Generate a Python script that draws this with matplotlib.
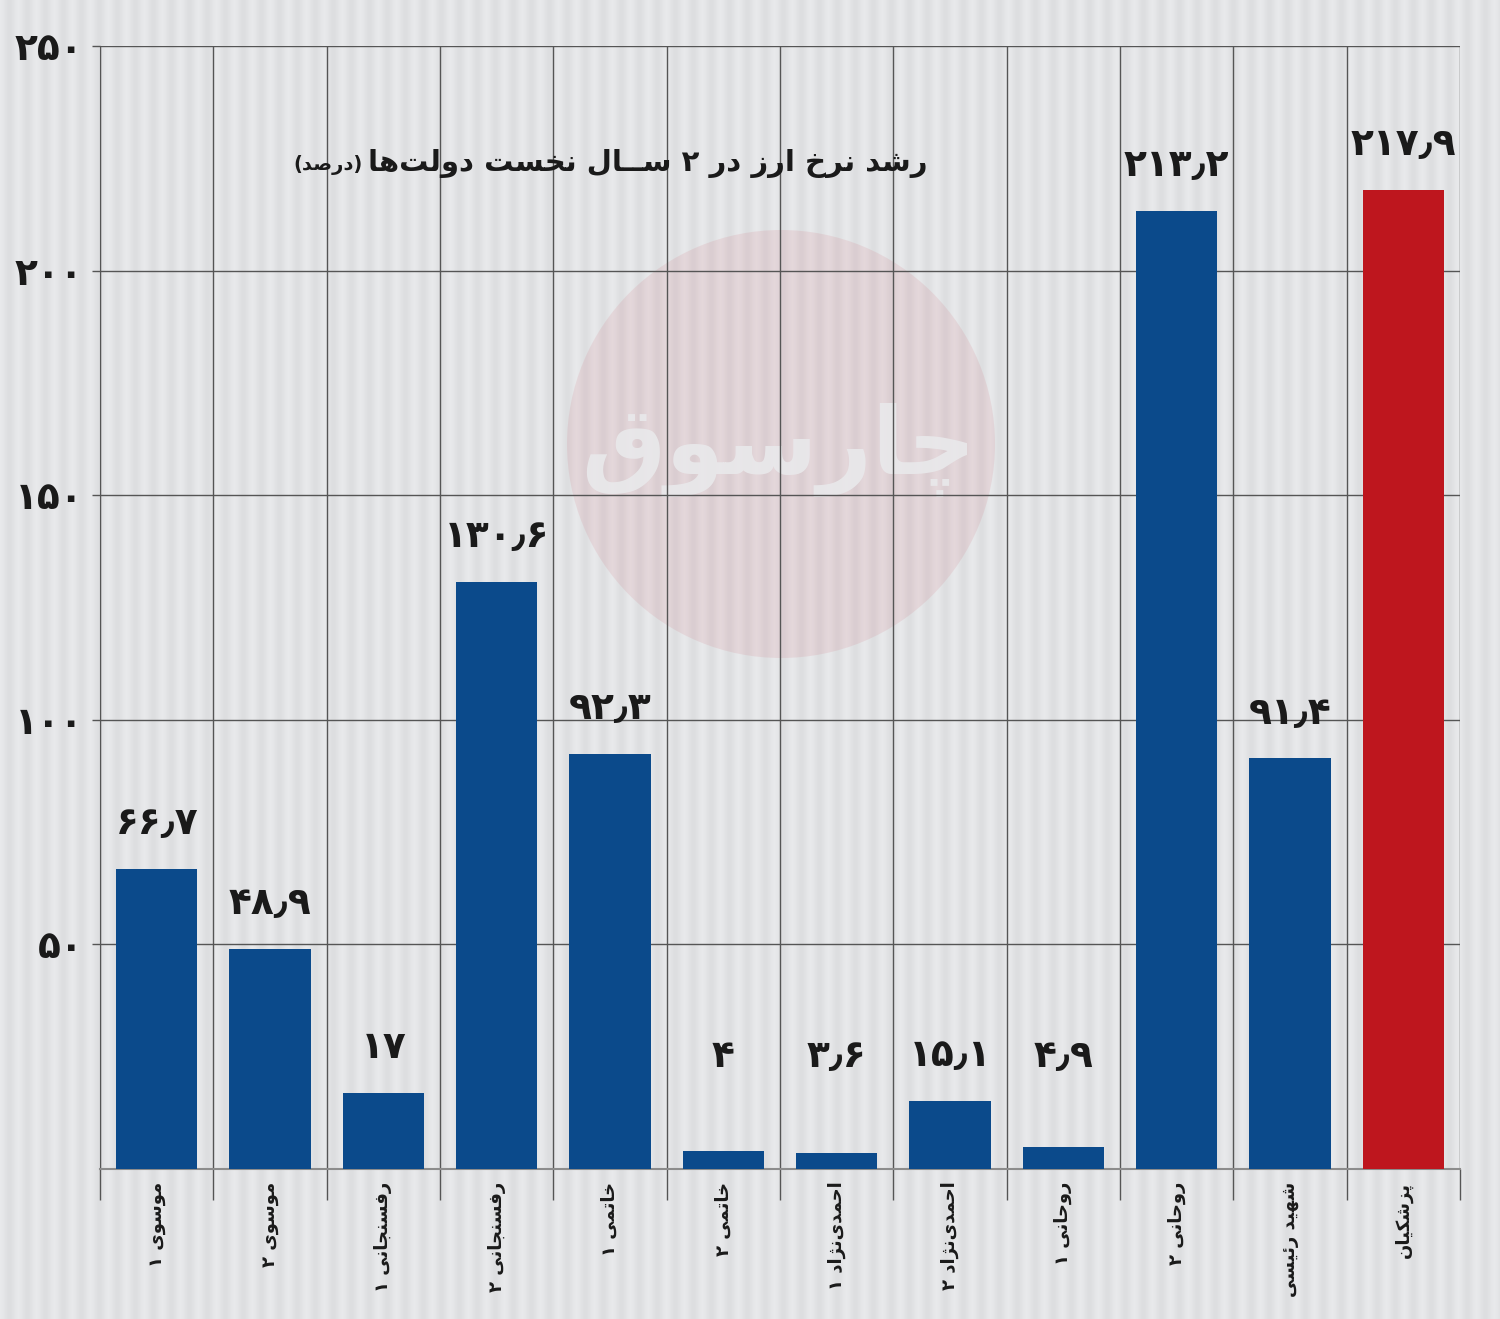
import re

import numpy as np
import matplotlib
matplotlib.use('Agg')
import matplotlib.pyplot as plt
from matplotlib.patches import Ellipse

governments = ['موسوی ۱', 'موسوی ۲', 'رفسنجانی ۱', 'رفسنجانی ۲', 'خاتمی ۱', 'خاتمی ۲',
               'احمدی‌نژاد ۱', 'احمدی‌نژاد ۲', 'روحانی ۱', 'روحانی ۲', 'شهید رئیسی', 'پزشکیان']
growth = [66.7, 48.9, 17, 130.6, 92.3, 4, 3.6, 15.1, 4.9, 213.2, 91.4, 217.9]
y_ticks = [50, 100, 150, 200, 250]
highlight = 'پزشکیان'
title = 'رشد نرخ ارز در ۲ ســال نخست دولت‌ها'
unit = '(درصد)'
brand = 'چارسوق'

# isolated, final, initial, medial (None = letter does not join to the next one)
FORMS = {
    'ا': (0xFE8D, 0xFE8E, None, None),
    'ب': (0xFE8F, 0xFE90, 0xFE91, 0xFE92),
    'پ': (0xFB56, 0xFB57, 0xFB58, 0xFB59),
    'ت': (0xFE95, 0xFE96, 0xFE97, 0xFE98),
    'ج': (0xFE9D, 0xFE9E, 0xFE9F, 0xFEA0),
    'چ': (0xFB7A, 0xFB7B, 0xFB7C, 0xFB7D),
    'ح': (0xFEA1, 0xFEA2, 0xFEA3, 0xFEA4),
    'خ': (0xFEA5, 0xFEA6, 0xFEA7, 0xFEA8),
    'د': (0xFEA9, 0xFEAA, None, None),
    'ر': (0xFEAD, 0xFEAE, None, None),
    'ز': (0xFEAF, 0xFEB0, None, None),
    'ژ': (0xFB8A, 0xFB8B, None, None),
    'س': (0xFEB1, 0xFEB2, 0xFEB3, 0xFEB4),
    'ش': (0xFEB5, 0xFEB6, 0xFEB7, 0xFEB8),
    'ص': (0xFEB9, 0xFEBA, 0xFEBB, 0xFEBC),
    'ف': (0xFED1, 0xFED2, 0xFED3, 0xFED4),
    'ق': (0xFED5, 0xFED6, 0xFED7, 0xFED8),
    'ک': (0xFB8E, 0xFB8F, 0xFB90, 0xFB91),
    'ل': (0xFEDD, 0xFEDE, 0xFEDF, 0xFEE0),
    'م': (0xFEE1, 0xFEE2, 0xFEE3, 0xFEE4),
    'ن': (0xFEE5, 0xFEE6, 0xFEE7, 0xFEE8),
    'ه': (0xFEE9, 0xFEEA, 0xFEEB, 0xFEEC),
    'و': (0xFEED, 0xFEEE, None, None),
    'ی': (0xFBFC, 0xFBFD, 0xFBFE, 0xFBFF),
    'ئ': (0xFE89, 0xFE8A, 0xFE8B, 0xFE8C),
    'ـ': (0x0640, 0x0640, 0x0640, 0x0640),
}
FA_DIGITS = '۰۱۲۳۴۵۶۷۸۹٫'
MIRROR = str.maketrans('()', ')(')


def shape(text):
    out = []
    for i, c in enumerate(text):
        if c not in FORMS:
            if c != '\u200c':
                out.append(c)
            continue
        prev = text[i - 1] if i > 0 else ''
        nxt = text[i + 1] if i + 1 < len(text) else ''
        join_prev = prev in FORMS and FORMS[prev][2] is not None
        join_next = FORMS[c][2] is not None and nxt in FORMS
        iso, fin, ini, med = FORMS[c]
        if join_prev and join_next:
            g = med
        elif join_prev:
            g = fin
        elif join_next:
            g = ini
        else:
            g = iso
        out.append(chr(g))
    return ''.join(out)


def visual(text):
    parts = re.findall('[' + FA_DIGITS + ']+|[^' + FA_DIGITS + ']+', shape(text))
    line = ''
    for p in reversed(parts):
        if p[0] in FA_DIGITS:
            line += p
        else:
            line += p[::-1].translate(MIRROR)
    return line


def fa_num(v):
    return f'{v:g}'.translate(str.maketrans('0123456789.', FA_DIGITS))


plt.rcParams['font.family'] = ['DejaVu Sans']
plt.rcParams['font.weight'] = 'bold'

W, H = 1500, 1319
fig = plt.figure(figsize=(W / 100, H / 100), dpi=100)

# striped grey background
bg = fig.add_axes([0, 0, 1, 1], zorder=-2)
cols = np.arange(W)
wave = 0.5 + 0.5 * np.cos(2 * np.pi * cols / 18.0)
base = np.array([0.868, 0.872, 0.880])
stripes = base[None, :] + 0.042 * wave[:, None]
bg.imshow(stripes[None, :, :], aspect='auto', extent=[0, 1, 0, 1])
bg.axis('off')

# faded logo circle
fig.add_artist(Ellipse((781 / W, 1 - 444 / H), 428 / W, 428 / H, transform=fig.transFigure,
                       facecolor='#cc5966', edgecolor='none', alpha=0.12, zorder=-1))
fig.text(778 / W, 1 - 450 / H, visual(brand), ha='center', va='center', fontsize=68,
         color='#e9e9eb', alpha=0.9, zorder=-0.5)

ax = fig.add_axes([100 / W, 150 / H, 1360 / W, 1123 / H])
ax.set_facecolor('none')

x = np.arange(len(governments))
colors = ['#be161e' if g == highlight else '#0b4a8b' for g in governments]
ax.bar(x, growth, width=0.72, color=colors, zorder=3)

for xi, v in zip(x, growth):
    ax.text(xi, max(v, 15) + 10, fa_num(v), ha='center', va='center',
            fontsize=27, fontweight='bold', color='#1a1a1a', zorder=4)

ax.set_xlim(-0.5, len(governments) - 0.5)
ax.set_ylim(0, 250)
ax.set_yticks(y_ticks)
ax.set_yticklabels([fa_num(t) for t in y_ticks], fontsize=27, fontweight='bold', color='#1a1a1a')
ax.set_xticks(x)
ax.set_xticklabels([visual(g) for g in governments], rotation=90, fontsize=13,
                   fontweight='bold', color='#1a1a1a')
ax.set_xticks(np.arange(-0.5, len(governments), 1), minor=True)

ax.tick_params(axis='x', which='major', length=0, pad=9)
ax.tick_params(axis='x', which='minor', length=22, width=1, color='#555555', direction='out')
ax.tick_params(axis='y', length=6, width=1, color='#555555', pad=6)
ax.grid(axis='x', which='minor', color='#555555', lw=1)
ax.grid(axis='y', which='major', color='#555555', lw=1)
ax.set_axisbelow(True)

for side in ['top', 'right']:
    ax.spines[side].set_visible(False)
ax.spines['left'].set_color('#555555')
ax.spines['bottom'].set_color('#8c8c8c')
ax.spines['bottom'].set_linewidth(1.5)

head = fig.text(928 / W, 1 - 163 / H, visual(title), ha='right', va='center',
                fontsize=21, fontweight='bold', color='#1a1a1a')
ax.annotate(visual(unit), xy=(0, 0.42), xycoords=head, xytext=(-4, 0), textcoords='offset points',
            ha='right', va='center', fontsize=14, fontweight='bold', color='#1a1a1a',
            annotation_clip=False)

fig.savefig('out.png', dpi=100)
